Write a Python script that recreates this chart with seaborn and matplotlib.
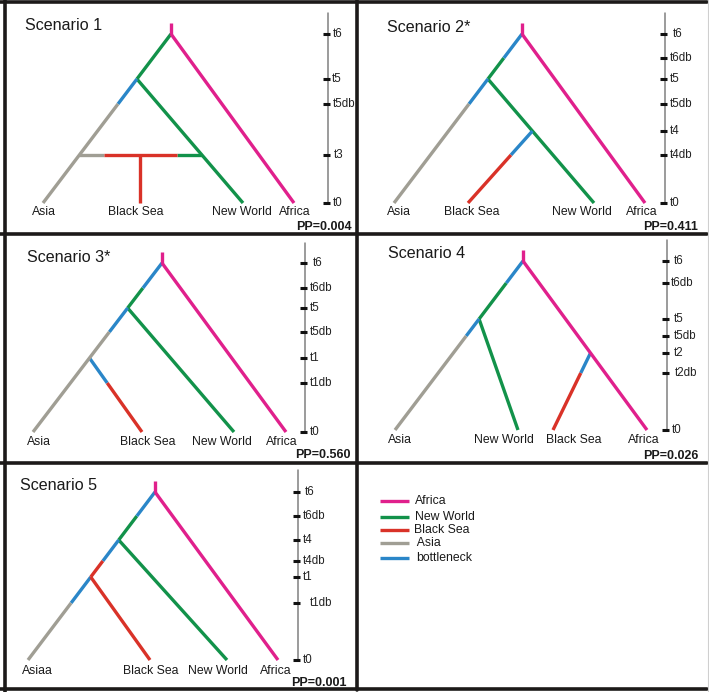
import matplotlib
matplotlib.use("Agg")
import matplotlib.pyplot as plt
import numpy as np
import pandas as pd
import seaborn as sns

# ---------------- data ----------------
categories = ["Africa", "New World", "Black Sea", "Asia", "bottleneck"]
category_colors = ["#e0208c", "#12924a", "#d93228", "#a09e94", "#2a86c8"]

# Scenario 1
s1_title = "Scenario 1"
s1_pp = "PP=0.004"
s1_ticks = ["t6", "t5", "t5db", "t3", "t0"]
s1_tick_y = [34, 79, 104, 155, 203]
s1_root_x = 171
s1_leaves = ["Asia", "Black Sea", "New World", "Africa"]
s1_leaf_labels = ["Asia", "Black Sea", "New World", "Africa"]
s1_leaf_x = [43, 140, 243, 294]
s1_label_x = [44, 136, 242, 295]
s1_lineages = [
    ("Asia", None, "t6", [("t6", "t5", "New World"), ("t5", "t5db", "bottleneck"), ("t5db", "t0", "Asia")]),
    ("Africa", None, "t6", [("t6", "t0", "Africa")]),
    ("New World", "Asia", "t5", [("t5", "t0", "New World")]),
    ("Black Sea", "admixture", "t3", [("t3", "t0", "Black Sea")]),
]
s1_admixture = ("t3", "Asia", "New World", [0.0, 0.2, 0.8, 1.0], ["Asia", "Black Sea", "New World"])

# Scenario 2*
s2_title = "Scenario 2*"
s2_pp = "PP=0.411"
s2_ticks = ["t6", "t6db", "t5", "t5db", "t4", "t4db", "t0"]
s2_tick_y = [34, 58, 79, 104, 131, 155, 203]
s2_root_x = 167
s2_leaves = ["Asia", "Black Sea", "New World", "Africa"]
s2_leaf_labels = ["Asia", "Black Sea", "New World", "Africa"]
s2_leaf_x = [39, 113, 239, 290]
s2_label_x = [44, 117, 227, 287]
s2_lineages = [
    ("Asia", None, "t6", [("t6", "t6db", "bottleneck"), ("t6db", "t5", "New World"),
                          ("t5", "t5db", "bottleneck"), ("t5db", "t0", "Asia")]),
    ("Africa", None, "t6", [("t6", "t0", "Africa")]),
    ("New World", "Asia", "t5", [("t5", "t0", "New World")]),
    ("Black Sea", "New World", "t4", [("t4", "t4db", "bottleneck"), ("t4db", "t0", "Black Sea")]),
]

# Scenario 3*
s3_title = "Scenario 3*"
s3_pp = "PP=0.560"
s3_ticks = ["t6", "t6db", "t5", "t5db", "t1", "t1db", "t0"]
s3_tick_y = [33, 58, 78, 102, 128, 153, 202]
s3_root_x = 162
s3_leaves = ["Asia", "Black Sea", "New World", "Africa"]
s3_leaf_labels = ["Asia", "Black Sea", "New World", "Africa"]
s3_leaf_x = [33, 142, 234, 286]
s3_label_x = [39, 148, 222, 282]
s3_lineages = [
    ("Asia", None, "t6", [("t6", "t6db", "bottleneck"), ("t6db", "t5", "New World"),
                          ("t5", "t5db", "bottleneck"), ("t5db", "t0", "Asia")]),
    ("Africa", None, "t6", [("t6", "t0", "Africa")]),
    ("New World", "Asia", "t5", [("t5", "t0", "New World")]),
    ("Black Sea", "Asia", "t1", [("t1", "t1db", "bottleneck"), ("t1db", "t0", "Black Sea")]),
]

# Scenario 4
s4_title = "Scenario 4"
s4_pp = "PP=0.026"
s4_ticks = ["t6", "t6db", "t5", "t5db", "t2", "t2db", "t0"]
s4_tick_y = [31, 53, 89, 106, 123, 143, 200]
s4_root_x = 168
s4_leaves = ["Asia", "New World", "Black Sea", "Africa"]
s4_leaf_labels = ["Asia", "New World", "Black Sea", "Africa"]
s4_leaf_x = [40, 163, 198, 292]
s4_label_x = [45, 149, 219, 289]
s4_lineages = [
    ("Asia", None, "t6", [("t6", "t6db", "bottleneck"), ("t6db", "t5", "New World"),
                          ("t5", "t5db", "bottleneck"), ("t5db", "t0", "Asia")]),
    ("Africa", None, "t6", [("t6", "t0", "Africa")]),
    ("New World", "Asia", "t5", [("t5", "t0", "New World")]),
    ("Black Sea", "Africa", "t2", [("t2", "t2db", "bottleneck"), ("t2db", "t0", "Black Sea")]),
]

# Scenario 5
s5_title = "Scenario 5"
s5_pp = "PP=0.001"
s5_ticks = ["t6", "t6db", "t4", "t4db", "t1", "t1db", "t0"]
s5_tick_y = [37, 61, 85, 106, 122, 148, 205]
s5_root_x = 155
s5_leaves = ["Asia", "Black Sea", "New World", "Africa"]
s5_leaf_labels = ["Asiaa", "Black Sea", "New World", "Africa"]
s5_leaf_x = [28, 150, 227, 278]
s5_label_x = [37, 151, 218, 276]
s5_lineages = [
    ("Asia", None, "t6", [("t6", "t6db", "bottleneck"), ("t6db", "t4", "New World"),
                          ("t4", "t4db", "bottleneck"), ("t4db", "t1", "Black Sea"),
                          ("t1", "t1db", "bottleneck"), ("t1db", "t0", "Asia")]),
    ("Africa", None, "t6", [("t6", "t0", "Africa")]),
    ("New World", "Asia", "t4", [("t4", "t0", "New World")]),
    ("Black Sea", "Asia", "t1", [("t1", "t0", "Black Sea")]),
]

legend_labels = ["Africa", "New World", "Black Sea", " Asia", "bottleneck"]

# ---------------- layout ----------------
W, H = 709, 692
panels = [
    dict(title=s1_title, pp=s1_pp, ticks=s1_ticks, tick_y=s1_tick_y, root_x=s1_root_x,
         leaves=s1_leaves, leaf_labels=s1_leaf_labels, leaf_x=s1_leaf_x, label_x=s1_label_x,
         lineages=s1_lineages, admix=s1_admixture, tick_dx=[5, 4, 5, 6, 5],
         off=(0, 0), axis_x=328, axis_top=13, title_xy=(25, 26), pp_xy=(352, 227), label_y=212),
    dict(title=s2_title, pp=s2_pp, ticks=s2_ticks, tick_y=s2_tick_y, root_x=s2_root_x,
         leaves=s2_leaves, leaf_labels=s2_leaf_labels, leaf_x=s2_leaf_x, label_x=s2_label_x,
         lineages=s2_lineages, admix=None, tick_dx=[8, 5, 5, 5, 5, 5, 5],
         off=(355, 0), axis_x=310, axis_top=13, title_xy=(32, 27), pp_xy=(343, 227), label_y=212),
    dict(title=s3_title, pp=s3_pp, ticks=s3_ticks, tick_y=s3_tick_y, root_x=s3_root_x,
         leaves=s3_leaves, leaf_labels=s3_leaf_labels, leaf_x=s3_leaf_x, label_x=s3_label_x,
         lineages=s3_lineages, admix=None, tick_dx=[8, 5, 5, 5, 5, 5, 5],
         off=(0, 230), axis_x=305, axis_top=13, title_xy=(27, 27), pp_xy=(351, 225), label_y=212),
    dict(title=s4_title, pp=s4_pp, ticks=s4_ticks, tick_y=s4_tick_y, root_x=s4_root_x,
         leaves=s4_leaves, leaf_labels=s4_leaf_labels, leaf_x=s4_leaf_x, label_x=s4_label_x,
         lineages=s4_lineages, admix=None, tick_dx=[7, 4, 7, 7, 7, 8, 5],
         off=(355, 230), axis_x=312, axis_top=10, title_xy=(33, 24), pp_xy=(343, 226), label_y=210),
    dict(title=s5_title, pp=s5_pp, ticks=s5_ticks, tick_y=s5_tick_y, root_x=s5_root_x,
         leaves=s5_leaves, leaf_labels=s5_leaf_labels, leaf_x=s5_leaf_x, label_x=s5_label_x,
         lineages=s5_lineages, admix=None, tick_dx=[7, 5, 5, 5, 5, 12, 5],
         off=(0, 455), axis_x=298, axis_top=15, title_xy=(20, 30), pp_xy=(347, 228), label_y=216),
]
legend_off = (355, 455)
legend_line_y = [46, 62, 75, 88, 103]
legend_text_x = [60, 60, 59, 59, 61]
STEM = 11
LW = 2.4

sns.set_style("white")
plt.rcParams["font.family"] = ["Liberation Sans", "DejaVu Sans"]

fig = plt.figure(figsize=(W / 100, H / 100), dpi=100)
ax = fig.add_axes([0, 0, 1, 1])
ax.set_xlim(0, W)
ax.set_ylim(H, 0)
ax.axis("off")

palette = dict(zip(categories, category_colors))

rows = []
seg_id = 0


def add_seg(x0, y0, x1, y1, cat):
    global seg_id
    rows.append(dict(seg=seg_id, x=x0, y=y0, cat=cat))
    rows.append(dict(seg=seg_id, x=x1, y=y1, cat=cat))
    seg_id += 1


for p in panels:
    ox, oy = p["off"]
    ty = dict(zip(p["ticks"], p["tick_y"]))
    lx = dict(zip(p["leaves"], p["leaf_x"]))
    root_y = ty["t6"]
    t0 = ty["t0"]
    starts = {}

    def xat(name, y):
        xs, ys = starts[name]
        return xs + (lx[name] - xs) * (y - ys) / (t0 - ys)

    for name, parent, split, pieces in p["lineages"]:
        if parent is None:
            starts[name] = (p["root_x"], root_y)
        elif parent == "admixture":
            starts[name] = (lx[name], ty[split])
        else:
            starts[name] = (xat(parent, ty[split]), ty[split])
        for a, b, cat in pieces:
            ya, yb = ty[a], ty[b]
            add_seg(ox + xat(name, ya), oy + ya, ox + xat(name, yb), oy + yb, cat)
    # root stem
    add_seg(ox + p["root_x"], oy + root_y - STEM, ox + p["root_x"], oy + root_y, "Africa")
    # admixture bar
    if p["admix"] is not None:
        tk, left, right, fr, cats = p["admix"]
        y = ty[tk]
        xl, xr = xat(left, y), xat(right, y)
        for i, cat in enumerate(cats):
            add_seg(ox + xl + (xr - xl) * fr[i], oy + y, ox + xl + (xr - xl) * fr[i + 1], oy + y, cat)

df = pd.DataFrame(rows)
sns.lineplot(data=df, x="x", y="y", units="seg", hue="cat", palette=palette,
             estimator=None, sort=False, lw=LW, legend=False, ax=ax,
             solid_capstyle="butt")

# time axes, labels
for p in panels:
    ox, oy = p["off"]
    axx = ox + p["axis_x"]
    ty = p["tick_y"]
    ax.plot([axx, axx], [oy + p["axis_top"], oy + ty[-1]], color="#808080", lw=1.1, zorder=3)
    for lab, y, dx in zip(p["ticks"], ty, p["tick_dx"]):
        ax.plot([axx - 5, axx + 2], [oy + y, oy + y], color="#111111", lw=2.2,
                solid_capstyle="butt", zorder=4)
        ax.text(axx + dx, oy + y, lab, fontsize=8.3, va="center", ha="left", color="#222222")
    for lab, x in zip(p["leaf_labels"], p["label_x"]):
        ax.text(ox + x, oy + p["label_y"], lab, fontsize=8.8, ha="center", va="center",
                color="#1a1a1a")
    tx, tyy = p["title_xy"]
    ax.text(ox + tx, oy + tyy, p["title"], fontsize=11.6, ha="left", va="center", color="#1a1a1a")
    px, py = p["pp_xy"]
    ax.text(ox + px, oy + py, p["pp"], fontsize=9, ha="right", va="center",
            fontweight="bold", color="#1a1a1a")

# legend
lox, loy = legend_off
for lab, col, y, tx in zip(legend_labels, category_colors, legend_line_y, legend_text_x):
    ax.plot([lox + 25, lox + 54], [loy + y, loy + y], color=col, lw=LW, solid_capstyle="butt")
    ax.text(lox + tx, loy + y, lab, fontsize=8.8, ha="left", va="center", color="#1a1a1a")

# panel borders
bk = "#1c1a19"
bw = 2.6
ax.plot([0, 707], [2, 2], color=bk, lw=bw)
ax.plot([0, 707], [689, 689], color=bk, lw=bw)
ax.plot([4.5, 4.5], [0, 692], color=bk, lw=bw)
ax.plot([356.5, 356.5], [0, 690], color=bk, lw=bw)
ax.plot([0, 707], [233.5, 233.5], color=bk, lw=bw)
ax.plot([0, 707], [463, 463], color=bk, lw=bw)
ax.plot([707.5, 707.5], [0, 692], color="#cfcfcf", lw=0.8)

fig.savefig("out.png", dpi=100)
